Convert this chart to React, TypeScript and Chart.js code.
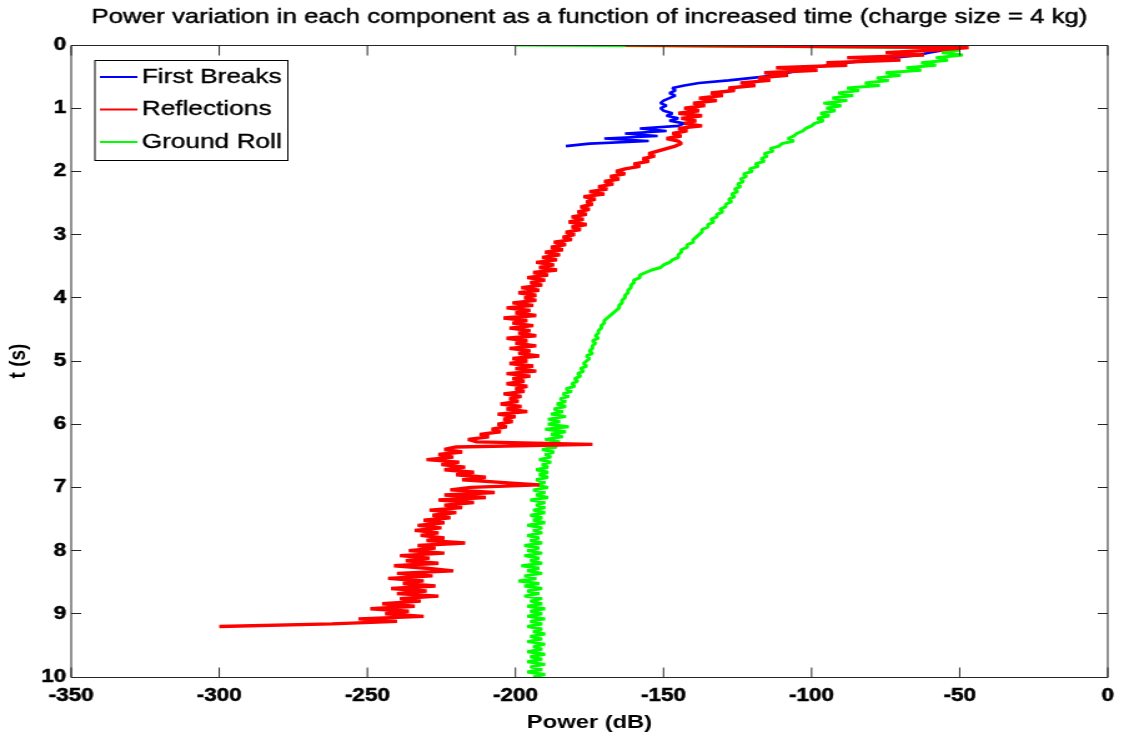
import { useEffect, useRef } from "react";
import { Chart, registerables } from "chart.js";

Chart.register(...registerables);

// ---- text ----
const TITLE = "Power variation in each component as a function of increased time (charge size = 4 kg)";
const X_LABEL = "Power (dB)";
const Y_LABEL = "t (s)";
const SERIES_NAMES = ["First Breaks", "Reflections", "Ground Roll"];
const SERIES_COLORS = ["#0000ff", "#ff0000", "#00ff00"];

// ---- axes ----
const X_TICKS = [-350, -300, -250, -200, -150, -100, -50, 0];
const Y_TICKS = [0, 1, 2, 3, 4, 5, 6, 7, 8, 9, 10];
const T_STEP = 0.04; // sampling interval of the power traces (s)

// ---- series: power (dB) per time sample, starting at t = 0 ----
const firstBreaks = [
  -128, -52, -55, -60, -64, -72, -80, -88, -94, -100, -104, -108, -112, -120, -128, -138, -143, -147, -146, -148,
  -146, -148, -150, -151, -149, -151, -150, -147, -149, -145, -148, -143, -145, -158, -149, -163, -152, -170, -155, -175,
  -183,
];

const reflections = [
  -163, -47, -58, -75, -62, -88, -70, -95, -88, -112, -98, -116, -108, -118, -114, -124, -119, -128, -126, -134, -130, -138, -132, -140, -136,
  -143, -138, -145, -137, -144, -139, -143, -137, -145, -142, -147, -144, -149, -145, -144, -146, -149, -152, -155, -153, -157, -155, -160, -158, -163,
  -166, -163, -168, -165, -170, -167, -172, -169, -175, -170, -177, -173, -176, -174, -178, -175, -179, -176, -181, -177, -182, -176, -181, -178, -183,
  -180, -184, -181, -187, -183, -188, -184, -190, -185, -191, -186, -193, -187, -192, -186, -194, -189, -196, -190, -195, -191, -198, -192, -199, -193,
  -197, -193, -201, -194, -203, -195, -200, -193, -204, -196, -201, -194, -202, -195, -199, -193, -203, -196, -200, -193, -202, -195, -199, -192, -201,
  -196, -202, -194, -200, -193, -203, -195, -201, -197, -203, -196, -200, -197, -204, -198, -202, -199, -205, -198, -203, -196, -206, -200, -204, -201,
  -206, -203, -208, -205, -212, -209, -216, -213, -174, -220, -224, -218, -226, -221, -230, -219, -225, -217, -224, -214, -220, -210, -218, -205, -192,
  -215, -222, -207, -224, -210, -226, -214, -224, -218, -229, -220, -228, -222, -231, -224, -233, -225, -234, -226, -232, -224, -230, -217, -233, -227,
  -236, -224, -239, -229, -237, -226, -241, -230, -221, -240, -228, -243, -231, -238, -227, -242, -230, -240, -226, -239, -232, -245, -234, -249, -236,
  -244, -231, -253, -240, -262, -300,
];

const groundRoll = [
  -200, -55, -50, -56, -49, -58, -54, -63, -58, -68, -63, -75, -70, -78, -74, -82, -77, -88, -84, -91, -86, -93, -88, -96, -90,
  -95, -92, -97, -94, -98, -96, -99, -100, -102, -103, -105, -106, -108, -106, -110, -111, -114, -113, -116, -115, -117, -116, -119, -118, -121,
  -120, -123, -122, -124, -123, -125, -124, -126, -125, -127, -126, -128, -127, -129, -129, -131, -130, -132, -132, -134, -133, -135, -135, -137, -137,
  -138, -139, -140, -140, -142, -142, -144, -144, -145, -145, -147, -148, -150, -151, -154, -156, -158, -158, -160, -160, -161, -161, -162, -162, -163,
  -163, -164, -164, -165, -165, -166, -167, -168, -169, -170, -170, -171, -171, -172, -172, -173, -172, -174, -173, -174, -174, -175, -174, -176, -175,
  -176, -177, -176, -178, -177, -179, -178, -180, -179, -181, -180, -183, -181, -184, -182, -185, -183, -186, -183, -187, -184, -188, -183, -189, -185,
  -189, -182, -190, -183, -188, -184, -190, -185, -189, -186, -191, -187, -190, -188, -192, -188, -191, -189, -193, -189, -192, -189, -193, -190, -193,
  -189, -194, -190, -193, -189, -195, -190, -193, -190, -194, -190, -195, -191, -194, -190, -196, -191, -194, -191, -196, -192, -195, -191, -197, -192,
  -196, -191, -197, -192, -195, -191, -198, -192, -196, -191, -197, -193, -199, -192, -197, -191, -196, -192, -197, -191, -195, -191, -196, -190, -195,
  -191, -196, -190, -195, -191, -196, -191, -194, -190, -195, -191, -196, -190, -194, -191, -196, -190, -195, -191, -196, -190, -195, -191, -196, -190,
  -194,
];

// ---- rendering geometry (the reference is a horizontally stretched figure) ----
const CANVAS_W = 900;
const CANVAS_H = 743;
const DISPLAY_W = 1124;
const FONT = "'Liberation Sans', Arial, Helvetica, sans-serif";

const toPoints = (vals: number[]) =>
  vals.map((p, i) => ({ x: p, y: Math.round(i * T_STEP * 100) / 100 }));

const frameLegendPlugin = {
  id: "frameLegend",
  afterDraw(chart: any) {
    const { ctx, chartArea } = chart;
    const { left, right, top, bottom } = chartArea;
    const xs = chart.scales.x;
    const ys = chart.scales.y;
    ctx.save();

    // title
    ctx.font = `20.7px ${FONT}`;
    ctx.textAlign = "center";
    ctx.textBaseline = "middle";
    ctx.fillStyle = "#000000";
    ctx.strokeStyle = "#000000";
    ctx.lineWidth = 0.45;
    ctx.fillText(TITLE, (left + right) / 2, 17.4);
    ctx.strokeText(TITLE, (left + right) / 2, 17.4);

    // axes box
    ctx.strokeStyle = "#262626";
    ctx.lineWidth = 1;
    const T = Math.floor(top) + 0.5;
    const B = Math.floor(bottom) + 0.5;
    ctx.beginPath();
    ctx.moveTo(left, T);
    ctx.lineTo(right, T);
    ctx.lineTo(right, B);
    ctx.lineTo(left, B);
    ctx.closePath();
    ctx.stroke();
    // inward ticks on all four sides
    ctx.beginPath();
    xs.ticks.forEach((t: any) => {
      const px = xs.getPixelForValue(t.value);
      ctx.moveTo(px, B);
      ctx.lineTo(px, B - 10);
      ctx.moveTo(px, T);
      ctx.lineTo(px, T + 10);
    });
    ys.ticks.forEach((t: any) => {
      const py = Math.floor(ys.getPixelForValue(t.value)) + 0.5;
      ctx.moveTo(left, py);
      ctx.lineTo(left + 8, py);
      ctx.moveTo(right, py);
      ctx.lineTo(right - 8, py);
    });
    ctx.stroke();

    // legend box
    const bl = 76, bt = 60.5, br = 230.5, bb = 160.5;
    ctx.fillStyle = "#ffffff";
    ctx.fillRect(bl, bt, br - bl, bb - bt);
    ctx.strokeStyle = "#000000";
    ctx.lineWidth = 1;
    ctx.strokeRect(bl, bt, br - bl, bb - bt);
    const rows = [77, 109.5, 142];
    ctx.font = `21px ${FONT}`;
    ctx.textBaseline = "middle";
    ctx.textAlign = "left";
    chart.data.datasets.forEach((ds: any, i: number) => {
      const y = rows[i];
      ctx.strokeStyle = ds.borderColor;
      ctx.lineWidth = 2;
      ctx.beginPath();
      ctx.moveTo(80, y);
      ctx.lineTo(110, y);
      ctx.stroke();
      ctx.fillStyle = "#000000";
      ctx.strokeStyle = "#000000";
      ctx.lineWidth = 0.35;
      ctx.fillText(ds.label, 113.5, y);
      ctx.strokeText(ds.label, 113.5, y);
    });
    ctx.restore();
  },
};

export default function App() {
  const ref = useRef<HTMLCanvasElement | null>(null);

  useEffect(() => {
    const canvas = ref.current;
    if (!canvas) return;
    const seriesValues = [firstBreaks, reflections, groundRoll];
    const drawOrder = [2, 0, 1];
    const widths = [2.6, 3.4, 3];
    const chart = new Chart(canvas, {
      type: "scatter",
      data: {
        datasets: seriesValues.map((vals, i) => ({
          label: SERIES_NAMES[i],
          data: toPoints(vals),
          showLine: true,
          borderColor: SERIES_COLORS[i],
          backgroundColor: SERIES_COLORS[i],
          borderWidth: widths[i],
          borderJoinStyle: "bevel",
          pointRadius: 0,
          pointHoverRadius: 0,
          tension: 0,
          order: drawOrder[i],
        })),
      },
      options: {
        animation: false,
        responsive: false,
        devicePixelRatio: 1,
        events: [],
        layout: { padding: { left: 0, right: 10, top: 45, bottom: 0 } },
        plugins: {
          legend: { display: false },
          tooltip: { enabled: false },
          title: { display: false },
        },
        scales: {
          x: {
            type: "linear",
            position: "bottom",
            min: -350,
            max: 0,
            afterFit: (s: any) => {
              s.height = 66;
            },
            afterBuildTicks: (s: any) => {
              s.ticks = X_TICKS.map((v) => ({ value: v }));
            },
            ticks: {
              color: "#000000",
              font: { family: FONT, size: 18, weight: "bold" },
              padding: 8,
              autoSkip: false,
              maxRotation: 0,
              textStrokeColor: "#000000",
              textStrokeWidth: 0.5,
            },
            grid: { display: false, drawTicks: false },
            border: { display: false },
            title: {
              display: true,
              text: X_LABEL,
              color: "#000000",
              font: { family: FONT, size: 19, weight: "bold" },
              padding: { top: 0, bottom: 9 },
            },
          },
          y: {
            type: "linear",
            position: "left",
            reverse: true,
            min: 0,
            max: 10,
            afterFit: (s: any) => {
              s.width = 57;
            },
            afterBuildTicks: (s: any) => {
              s.ticks = Y_TICKS.map((v) => ({ value: v }));
            },
            ticks: {
              color: "#000000",
              font: { family: FONT, size: 18, weight: "bold" },
              padding: 4,
              autoSkip: false,
              textStrokeColor: "#000000",
              textStrokeWidth: 0.5,
            },
            grid: { display: false, drawTicks: false },
            border: { display: false },
            title: {
              display: true,
              text: Y_LABEL,
              color: "#000000",
              font: { family: FONT, size: 19, weight: "bold" },
              padding: { top: 3, bottom: 0 },
            },
          },
        },
      } as any,
      plugins: [frameLegendPlugin],
    });
    return () => chart.destroy();
  }, []);

  return (
    <div style={{ position: "absolute", left: 0, top: 0, width: DISPLAY_W, height: CANVAS_H, background: "#fff" }}>
      <canvas
        ref={ref}
        width={CANVAS_W}
        height={CANVAS_H}
        style={{ width: `${DISPLAY_W}px`, height: `${CANVAS_H}px`, display: "block" }}
      />
    </div>
  );
}
